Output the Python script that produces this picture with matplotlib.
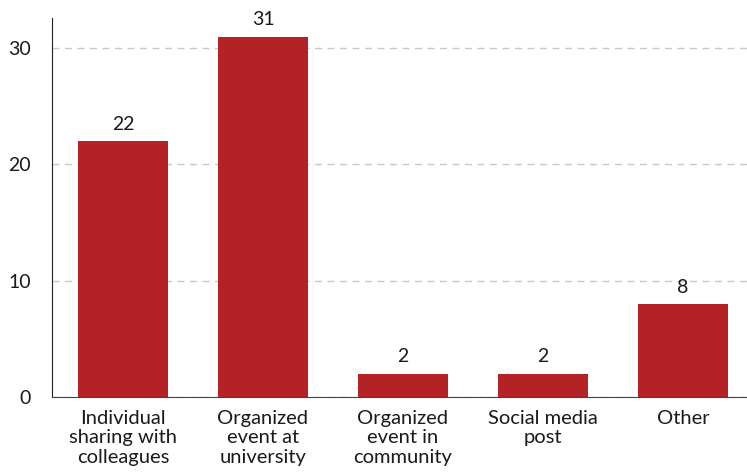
import matplotlib.pyplot as plt

categories = ['Individual\nsharing with\ncolleagues', 'Organized\nevent at\nuniversity',
              'Organized\nevent in\ncommunity', 'Social media\npost', 'Other']
counts = [22, 31, 2, 2, 8]
yticks = [0, 10, 20, 30]

plt.rcParams['font.family'] = ['Lato', 'DejaVu Sans']

fig = plt.figure(figsize=(7.47, 4.75), dpi=100)
ax = fig.add_axes([0.0696, 0.1642, 0.9304, 0.798])

x = range(len(categories))
bars = ax.bar(x, counts, width=0.643, color='#b52226', zorder=2)

# value labels above bars
for xi, v in zip(x, counts):
    ax.annotate(str(v), (xi, v), xytext=(0, 6), textcoords='offset points',
                ha='center', va='bottom', fontsize=14, color='#1a1a1a')

ax.set_xlim(-0.507, 4.457)
ax.set_ylim(0, 32.6)
ax.set_yticks(yticks)
ax.set_xticks(list(x))
ax.set_xticklabels(categories, fontsize=14.5, color='#1a1a1a', linespacing=1.2)
ax.tick_params(axis='y', length=0, pad=15, labelsize=14, labelcolor='#1a1a1a')
ax.tick_params(axis='x', length=0, pad=9)

ax.yaxis.grid(True, linestyle=(0, (5, 4)), color='#c8c8c8', linewidth=1, zorder=0)
ax.set_axisbelow(True)

for s in ['top', 'right']:
    ax.spines[s].set_visible(False)
ax.spines['left'].set_color('#222222')
ax.spines['bottom'].set_color('#444444')

fig.savefig('out.png', dpi=100)
